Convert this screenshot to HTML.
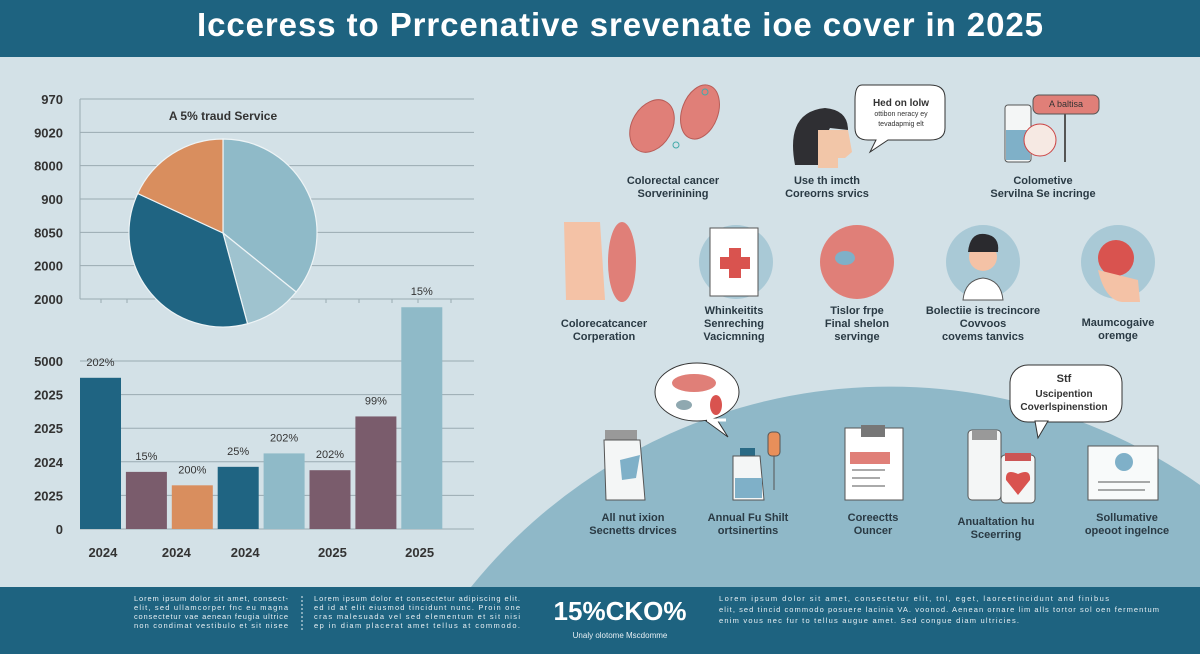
<!DOCTYPE html>
<html><head><meta charset="utf-8">
<style>
html,body{margin:0;padding:0;width:1200px;height:654px;overflow:hidden}
body{background:#d3e1e7;font-family:"Liberation Sans",sans-serif;position:relative}
svg{position:absolute;left:0;top:0;display:block}
</style></head>
<body>
<svg id="main" width="1200" height="654" viewBox="0 0 1200 654">
  <rect x="0" y="0" width="1200" height="654" fill="#d3e1e7"/>
  <path d="M471,587 A538,538 0 0 1 1200,485 L1200,587 Z" fill="#8fb8c8"/>
  <rect x="0" y="0" width="1200" height="57" fill="#1e6380"/>
  <text x="620" y="36" text-anchor="middle" font-size="33" font-weight="bold" fill="#fff" textLength="846">Icceress to Prrcenative srevenate ioe cover in 2025</text>
  <rect x="0" y="587" width="1200" height="67" fill="#1e6380"/>
  <g font-size="7.5" fill="#e8f0f4">
    <text x="134" y="601" textLength="154">Lorem ipsum dolor sit amet, consect-</text>
    <text x="134" y="610" textLength="154">elit, sed ullamcorper fnc eu magna</text>
    <text x="134" y="619" textLength="154">consectetur vae aenean feugia ultrice</text>
    <text x="134" y="628" textLength="154">non condimat vestibulo et sit nisee</text>
  </g>
  <line x1="302" y1="596" x2="302" y2="630" stroke="#e8f0f4" stroke-dasharray="2 2"/>
  <g font-size="7.5" fill="#e8f0f4">
    <text x="314" y="601" textLength="206">Lorem ipsum dolor et consectetur adipiscing elit.</text>
    <text x="314" y="610" textLength="206">ed id at elit eiusmod tincidunt nunc. Proin one</text>
    <text x="314" y="619" textLength="206">cras malesuada vel sed elementum et sit nisi</text>
    <text x="314" y="628" textLength="206">ep in diam placerat amet tellus at commodo.</text>
  </g>
  <text x="620" y="620" text-anchor="middle" font-size="26" font-weight="bold" fill="#fff">15%CKO%</text>
  <text x="620" y="638" text-anchor="middle" font-size="8" fill="#e8f0f4">Unaly olotome Mscdomme</text>
  <g font-size="7.5" fill="#e8f0f4">
    <text x="719" y="601" textLength="390">Lorem ipsum dolor sit amet, consectetur elit, tnl, eget, laoreetincidunt and finibus</text>
    <text x="719" y="612" textLength="440">elit, sed tincid commodo posuere lacinia VA. voonod. Aenean ornare lim alls tortor sol oen fermentum</text>
    <text x="719" y="623" textLength="300">enim vous nec fur to tellus augue amet. Sed congue diam ultricies.</text>
  </g>
  <g id="chart"></g>

  <g font-size="11" font-weight="bold" fill="#2a3a44" text-anchor="middle">
    <text x="673" y="184">Colorectal cancer</text><text x="673" y="197">Sorverinining</text>
    <text x="827" y="184">Use th imcth</text><text x="827" y="197">Coreorns srvics</text>
    <text x="1043" y="184">Colometive</text><text x="1043" y="197">Servilna Se incringe</text>
    <text x="604" y="327">Colorecatcancer</text><text x="604" y="340">Corperation</text>
    <text x="734" y="314">Whinkeitits</text><text x="734" y="327">Senreching</text><text x="734" y="340">Vacicmning</text>
    <text x="857" y="314">Tislor frpe</text><text x="857" y="327">Final shelon</text><text x="857" y="340">servinge</text>
    <text x="983" y="314">Bolectiie is trecincore</text><text x="983" y="327">Covvoos</text><text x="983" y="340">covems tanvics</text>
    <text x="1118" y="326">Maumcogaive</text><text x="1118" y="339">oremge</text>
    <text x="633" y="521">All nut ixion</text><text x="633" y="534">Secnetts drvices</text>
    <text x="748" y="521">Annual Fu Shilt</text><text x="748" y="534">ortsinertins</text>
    <text x="873" y="521">Coreectts</text><text x="873" y="534">Ouncer</text>
    <text x="996" y="525">Anualtation hu</text><text x="996" y="538">Sceerring</text>
    <text x="1127" y="521">Sollumative</text><text x="1127" y="534">opeoot ingelnce</text>
  </g>
  <g>
    <ellipse cx="652" cy="126" rx="20" ry="28" transform="rotate(30 652 126)" fill="#e07f78" stroke="#b85c57"/>
    <ellipse cx="700" cy="112" rx="18" ry="28" transform="rotate(20 700 112)" fill="#e07f78" stroke="#b85c57"/>
    <circle cx="676" cy="145" r="3" fill="none" stroke="#4aa"/><circle cx="705" cy="92" r="3" fill="none" stroke="#4aa"/>
  </g>
  <g>
    <path d="M795 165 Q785 112 825 108 Q848 110 848 130 L830 128 L818 150 L818 165 Z" fill="#2f2f33"/>
    <path d="M818 130 L848 130 L852 152 L845 158 L838 158 L838 168 L818 168 Z" fill="#f2c6a8"/>
  </g>
  <g>
    <path d="M862 85 Q855 85 855 100 L855 128 Q855 140 868 140 L876 140 L870 152 L888 140 L930 140 Q945 140 945 128 L945 98 Q945 85 930 85 Z" fill="#fff" stroke="#333"/>
    <text x="901" y="106" font-size="10" font-weight="bold" text-anchor="middle" fill="#333">Hed on lolw</text>
    <text x="901" y="116" font-size="7" text-anchor="middle" fill="#333">ottibon neracy ey</text>
    <text x="901" y="126" font-size="7" text-anchor="middle" fill="#333">tevadapmig elt</text>
  </g>
  <g>
    <rect x="1005" y="105" width="26" height="57" rx="3" fill="#f4f6f6" stroke="#555"/>
    <rect x="1006" y="130" width="24" height="30" fill="#7fb0c8"/>
    <rect x="1033" y="95" width="66" height="19" rx="6" fill="#e07f78" stroke="#555"/>
    <text x="1066" y="107" font-size="9" text-anchor="middle" fill="#333">A baltisa</text>
    <line x1="1065" y1="114" x2="1065" y2="162" stroke="#555" stroke-width="2"/>
    <circle cx="1040" cy="140" r="16" fill="#f6e9e3" stroke="#c44"/>
  </g>
  <g>
    <path d="M564 222 L600 222 L605 300 L566 300 Z" fill="#f4c2a6"/>
    <ellipse cx="622" cy="262" rx="14" ry="40" fill="#e07f78"/>
  </g>
  <circle cx="736" cy="262" r="37" fill="#a9c9d6"/>
  <g>
    <rect x="710" y="228" width="48" height="68" fill="#fff" stroke="#555"/>
    <rect x="729" y="248" width="12" height="30" fill="#d9534f"/><rect x="720" y="257" width="30" height="12" fill="#d9534f"/>
  </g>
  <circle cx="857" cy="262" r="37" fill="#e07f78"/>
  <ellipse cx="845" cy="258" rx="10" ry="7" fill="#7fb0c8"/>
  <circle cx="983" cy="262" r="37" fill="#a9c9d6"/>
  <g>
    <path d="M963 300 Q965 280 983 278 Q1001 280 1003 300Z" fill="#fff" stroke="#555"/>
    <circle cx="983" cy="257" r="14" fill="#f4c2a6"/>
    <path d="M968 252 Q970 232 985 234 Q1000 236 998 252 Z" fill="#2a2a2e"/>
  </g>
  <circle cx="1118" cy="262" r="37" fill="#a9c9d6"/>
  <circle cx="1116" cy="258" r="18" fill="#d9534f"/>
  <path d="M1098 270 Q1105 300 1122 302 L1140 302 L1138 280 Z" fill="#f4c2a6"/>
  <g>
    <path d="M716 418 L728 437 L706 421Z" fill="#fff" stroke="#333"/>
    <ellipse cx="697" cy="392" rx="42" ry="29" fill="#fff" stroke="#333"/>
    <path d="M707 420 L726 420" stroke="#fff" stroke-width="3"/>
    <ellipse cx="694" cy="383" rx="22" ry="9" fill="#e07f78"/>
    <ellipse cx="716" cy="405" rx="6" ry="10" fill="#d9534f"/>
    <ellipse cx="684" cy="405" rx="8" ry="5" fill="#8fa8b0"/>
  </g>
  <g>
    <rect x="1010" y="365" width="112" height="57" rx="18" fill="#fff" stroke="#333"/>
    <path d="M1035 421 L1038 438 L1048 421Z" fill="#fff" stroke="#333"/>
    <text x="1064" y="382" font-size="11" font-weight="bold" text-anchor="middle" fill="#333">Stf</text>
    <text x="1064" y="397" font-size="10" font-weight="bold" text-anchor="middle" fill="#333">Uscipention</text>
    <text x="1064" y="410" font-size="10" font-weight="bold" text-anchor="middle" fill="#333">Coverlspinenstion</text>
  </g>
  <g>
    <rect x="605" y="430" width="32" height="10" fill="#999"/>
    <path d="M604 440 L640 440 L645 500 L606 500Z" fill="#f4f6f6" stroke="#555"/>
    <path d="M620 460 L640 455 L636 478 L622 480Z" fill="#7fb0c8"/>
  </g>
  <g>
    <rect x="740" y="448" width="15" height="8" fill="#2a6a85"/>
    <path d="M733 456 L760 456 L764 500 L733 500Z" fill="#f4f6f6" stroke="#555"/>
    <rect x="735" y="478" width="27" height="20" fill="#7fb0c8"/>
    <rect x="768" y="432" width="12" height="24" rx="4" fill="#e88f5a" stroke="#555"/>
    <line x1="774" y1="456" x2="774" y2="490" stroke="#555"/>
  </g>
  <g>
    <rect x="845" y="428" width="58" height="72" fill="#fff" stroke="#555"/>
    <rect x="861" y="425" width="24" height="12" fill="#777"/>
    <rect x="850" y="452" width="40" height="12" fill="#e07f78"/>
    <line x1="852" y1="470" x2="885" y2="470" stroke="#555"/><line x1="852" y1="478" x2="880" y2="478" stroke="#555"/><line x1="852" y1="486" x2="885" y2="486" stroke="#555"/>
  </g>
  <g>
    <rect x="968" y="430" width="33" height="70" rx="4" fill="#f4f6f6" stroke="#555"/>
    <rect x="972" y="430" width="25" height="10" fill="#999"/>
    <rect x="1001" y="455" width="34" height="48" rx="4" fill="#f4f6f6" stroke="#555"/>
    <rect x="1005" y="453" width="26" height="8" fill="#c55"/>
    <path d="M1018 495 L1006 480 Q1005 468 1018 474 Q1031 468 1030 480Z" fill="#d9534f"/>
  </g>
  <g>
    <rect x="1088" y="446" width="70" height="54" fill="#f8fafa" stroke="#555"/>
    <circle cx="1124" cy="462" r="9" fill="#7fb0c8"/>
    <line x1="1098" y1="482" x2="1150" y2="482" stroke="#555"/><line x1="1098" y1="490" x2="1145" y2="490" stroke="#555"/>
  </g>
</svg>
<script>
const NS='http://www.w3.org/2000/svg';
const upperTicks=['970','9020','8000','900','8050','2000','2000'];
const lowerTicks=['5000','2025','2025','2024','2025','0'];
const barValues=[4.5,1.7,1.3,1.85,2.25,1.75,3.35,6.6];
const barLabels=['202%','15%','200%','25%','202%','202%','99%','15%'];
const barColors=['#1f6482','#7a5c6c','#d98e5e','#1f6482','#8fbac8','#7a5c6c','#7a5c6c','#8fbac8'];
const xCategories=['2024','2024','2024','2025','2025'];
const xCategoryPos=[1,2.6,4.1,6,7.9];
const pieValues=[35.8,10,36.1,18.1];
const pieColors=['#8fbac8','#9fc3cf','#1f6482','#d98e5e'];

const g=document.getElementById('chart');
function mk(tag,attrs,parent){const e=document.createElementNS(NS,tag);for(const k in attrs)e.setAttribute(k,attrs[k]);(parent||g).appendChild(e);return e;}
const X0=80,X1=474;
const baseY=529,unit=33.6;
const yScale=v=>baseY-v*unit;
const barW=41,step=45.9;
const xBand=i=>X0+i*step;
upperTicks.forEach((t,i)=>{
  const y=99+i*33.33;
  const l=mk('line',{x1:X0,x2:X1,y1:y,y2:y,stroke:'#9aaab2','stroke-width':1});
  
  
  const tx=mk('text',{x:63,y:y+5,'text-anchor':'end','font-size':13,'font-weight':'bold',fill:'#333'});
  tx.textContent=t;
  
  
});
const ax=mk('line',{x1:X0,x2:X0,y1:99,y2:299,stroke:'#9aaab2'});


[101,127,326,359,392,418,451].forEach(x=>{const t=mk('line',{x1:x,x2:x,y1:299,y2:303,stroke:'#9aaab2'});});
lowerTicks.forEach((t,i)=>{
  const v=lowerTicks.length-1-i;
  const y=yScale(v);
  const l=mk('line',{x1:X0,x2:X1,y1:y,y2:y,stroke:'#9aaab2','stroke-width':1});
  
  
  const tx=mk('text',{x:63,y:y+5,'text-anchor':'end','font-size':13,'font-weight':'bold',fill:'#333'});
  tx.textContent=t;
  
  
});
barValues.forEach((v,i)=>{
  const x=xBand(i),y=yScale(v);
  const r=mk('rect',{x:x,y:y,width:barW,height:baseY-y,fill:barColors[i]});
  
  
  const t=mk('text',{x:x+barW/2,y:y-12,'text-anchor':'middle','font-size':11,fill:'#333'});
  t.textContent=barLabels[i];
  
  
});
xCategories.forEach((c,i)=>{
  const t=mk('text',{x:X0+xCategoryPos[i]*step-23,y:557,'text-anchor':'middle','font-size':13,'font-weight':'bold',fill:'#333'});
  t.textContent=c;
  
  
});
const cx=223,cy=233,R=94;
const total=pieValues.reduce((a,b)=>a+b,0);
let acc=0;
pieValues.forEach((v,i)=>{
  const a0=acc/total*2*Math.PI;acc+=v;const a1=acc/total*2*Math.PI;
  const p=(a)=>[cx+R*Math.sin(a),cy-R*Math.cos(a)];
  const [x0,y0]=p(a0),[x1,y1]=p(a1);
  const large=(a1-a0)>Math.PI?1:0;
  const s=mk('path',{d:`M${cx},${cy}L${x0},${y0}A${R},${R} 0 ${large} 1 ${x1},${y1}Z`,fill:pieColors[i],stroke:'#eef4f6','stroke-width':1.2});
  
  
});
const pt=mk('text',{x:223,y:120,'text-anchor':'middle','font-size':12,'font-weight':'bold',fill:'#333'});
pt.textContent='A 5% traud Service';


</script>
</body></html>
